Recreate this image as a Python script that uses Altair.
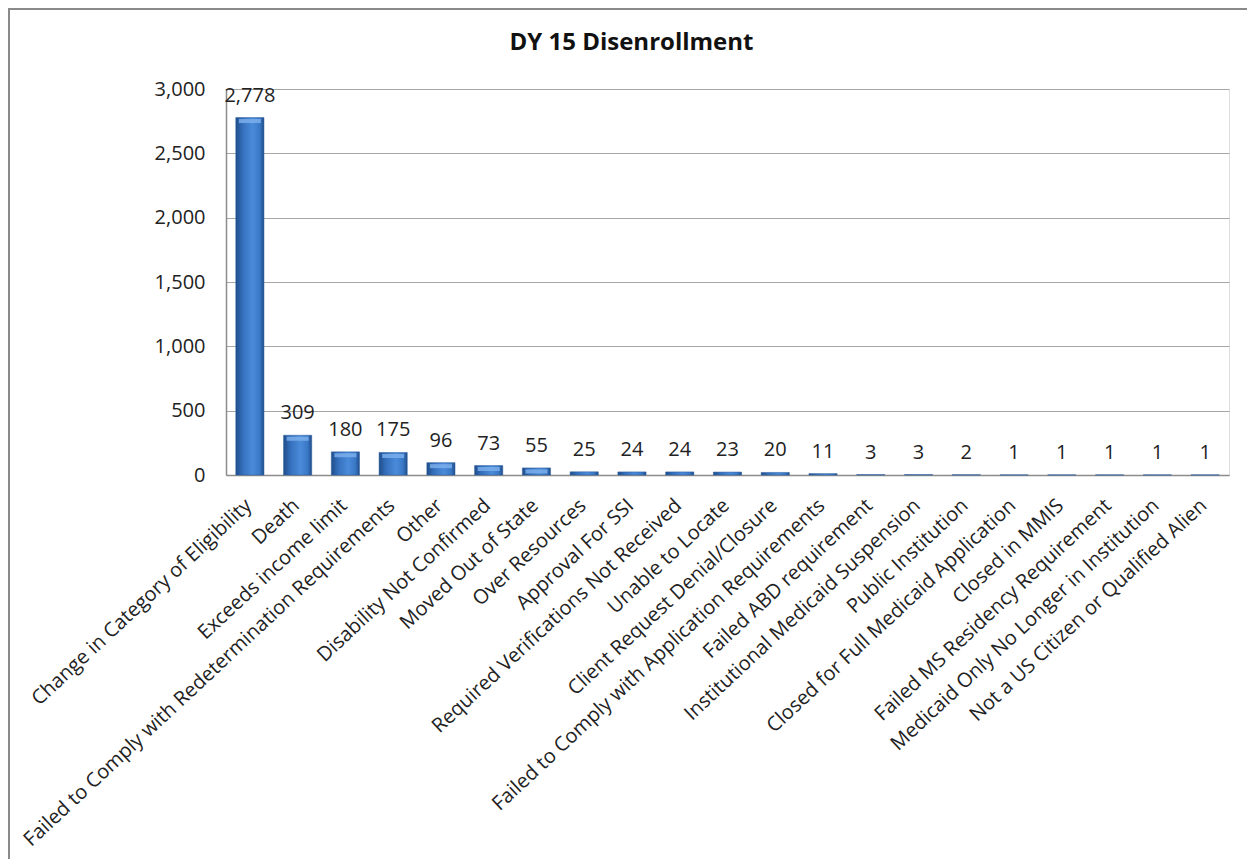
import altair as alt
import pandas as pd

categories = [
    "Change in Category of Eligibility",
    "Death",
    "Exceeds income limit",
    "Failed to Comply with Redetermination Requirements",
    "Other",
    "Disability Not Confirmed",
    "Moved Out of State",
    "Over Resources",
    "Approval For SSI",
    "Required Verifications Not Received",
    "Unable to Locate",
    "Client Request Denial/Closure",
    "Failed to Comply with Application Requirements",
    "Failed ABD requirement",
    "Institutional Medicaid Suspension",
    "Public Institution",
    "Closed for Full Medicaid Application",
    "Closed in MMIS",
    "Failed MS Residency Requirement",
    "Medicaid Only No Longer in Institution",
    "Not a US Citizen or Qualified Alien",
]
values = [2778, 309, 180, 175, 96, 73, 55, 25, 24, 24, 23, 20, 11, 3, 3, 2, 1, 1, 1, 1, 1]
y_ticks = [0, 500, 1000, 1500, 2000, 2500, 3000]

df = pd.DataFrame({"reason": categories, "count": values})

FONT = "Open Sans"
W, H = 1003, 386

x_enc = alt.X(
    "reason:N",
    sort=categories,
    scale=alt.Scale(paddingInner=0.41, paddingOuter=0.205),
    axis=alt.Axis(
        title=None,
        labelAngle=-43,
        labelFont=FONT,
        labelFontSize=20,
        labelColor="#222222",
        labelPadding=20,
        labelOffset=-8,
        ticks=False,
        domainColor="#8c8c8c",
        domainWidth=1.5,
        grid=False,
        labelLimit=700,
    ),
)
y_enc = alt.Y(
    "count:Q",
    scale=alt.Scale(domain=[0, 3000], nice=False),
    axis=alt.Axis(
        title=None,
        values=y_ticks,
        format=",.0f",
        labelFont=FONT,
        labelFontSize=20,
        labelColor="#222222",
        labelPadding=21,
        ticks=False,
        domainColor="#8c8c8c",
        domainWidth=1.5,
        gridColor="#a6a6a6",
        gridWidth=1.2,
    ),
)

base = alt.Chart(df)

bars = base.mark_bar(
    color=alt.Gradient(
        gradient="linear",
        x1=0, x2=1, y1=0, y2=0,
        stops=[
            alt.GradientStop(color="#1f4d8a", offset=0),
            alt.GradientStop(color="#3570bd", offset=0.25),
            alt.GradientStop(color="#4a8bd9", offset=0.6),
            alt.GradientStop(color="#3a78c6", offset=0.85),
            alt.GradientStop(color="#1f4d8a", offset=1),
        ],
    ),
    stroke="#2a5d9c",
    strokeWidth=0.5,
).encode(x=x_enc, y=y_enc)

caps = base.transform_filter(alt.datum["count"] >= 50).mark_tick(
    color="#7fb2ee", thickness=4, size=22, yOffset=3.5, opacity=0.8
).encode(x=alt.X("reason:N", sort=categories), y="count:Q")

labels = base.mark_text(
    font=FONT, fontSize=20, color="#222222", baseline="alphabetic", dy=-16
).encode(x=alt.X("reason:N", sort=categories), y="count:Q", text=alt.Text("count:Q", format=","))

border_top = alt.Chart(df).mark_rule(color="#8a8a8a", strokeWidth=2).encode(
    x=alt.value(-217), x2=alt.value(1030), y=alt.value(-80)
)
border_left = alt.Chart(df).mark_rule(color="#8a8a8a", strokeWidth=2).encode(
    x=alt.value(-217), y=alt.value(-81), y2=alt.value(790)
)

chart = (
    alt.layer(bars, caps, labels, border_top, border_left)
    .properties(
        width=W,
        height=H,
        title=alt.TitleParams(
            "DY 15 Disenrollment",
            font=FONT,
            fontSize=24,
            fontWeight="bold",
            color="#111111",
            anchor="middle",
            baseline="alphabetic",
            dx=-96,
            offset=-67,
        ),
        autosize=alt.AutoSizeParams(type="none"),
        padding={"left": 218, "top": 81, "right": 18, "bottom": 384},
    )
    .configure_view(stroke=None)
    .configure(background="white")
)

chart.save("out.html", embed_options={"renderer": "svg", "actions": False})
